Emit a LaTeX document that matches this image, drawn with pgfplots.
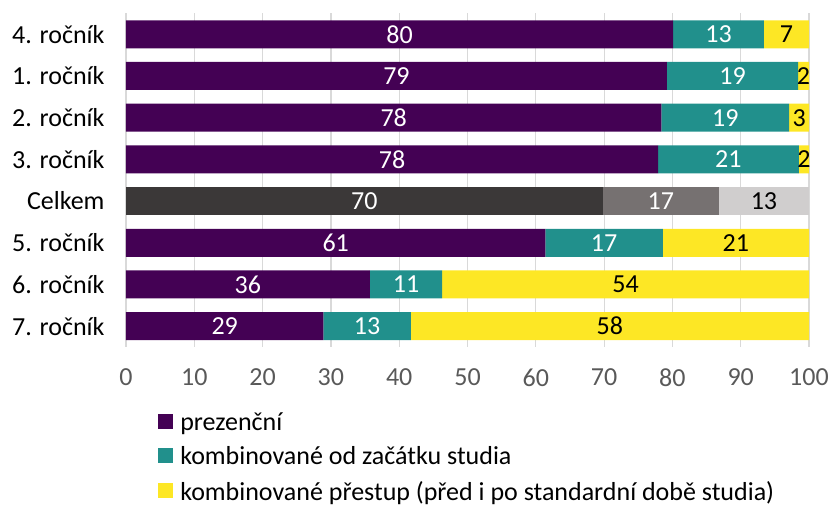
\documentclass[border=0pt]{standalone}
\usepackage{fontspec}
\setmainfont{Carlito}
\usepackage{pgfplots}
\usepackage{pgfplotstable}
\pgfplotsset{compat=1.18}
\definecolor{cPurple}{HTML}{440154}
\definecolor{cTeal}{HTML}{21908C}
\definecolor{cYellow}{HTML}{FDE725}
\definecolor{cDark}{HTML}{3B3838}
\definecolor{cGray}{HTML}{767171}
\definecolor{cLight}{HTML}{D0CECE}
\definecolor{gridc}{HTML}{D9D9D9}
\definecolor{tickc}{HTML}{595959}

\pgfplotstableread{
y a b c la lb lc
0 80.1 13.3 6.6 80 13 7
1 79.2 19.2 1.6 79 19 2
2 78.4 18.7 2.9 78 19 3
3 77.9 20.6 1.5 78 21 2
5 61.4 17.2 21.4 61 17 21
6 35.7 10.6 53.7 36 11 54
7 28.9 12.8 58.3 29 13 58
}\main
\pgfplotstableread{
y a b c la lb lc
4 69.8 17.0 13.2 70 17 13
}\total

\newcommand{\bigfont}{\fontsize{26}{30}\selectfont}

\pgfplotsset{base/.style={
  width=683pt, height=333.6pt, scale only axis,
  xmin=0, xmax=100, ymin=-0.5, ymax=7.5, y dir=reverse,
}}
\pgfplotsset{lab/.style={only marks, mark=none, nodes near coords, point meta=explicit symbolic,
  every node near coord/.style={anchor=center, font=\bigfont, inner sep=0pt, text=#1}}}

\begin{document}
\begin{tikzpicture}
\begin{axis}[base, xbar stacked, bar width=28pt,
  axis line style={draw=none},
  major tick style={draw=none},
  xmajorgrids, grid style={gridc, line width=1.2pt},
  xtick distance=10,
  /pgf/number format/assume math mode=true,
  xticklabel style={tickc, font=\bigfont, yshift=-18pt},
  ytick={0,1,2,3,4,5,6,7},
  yticklabels={4. ročník, 1. ročník, 2. ročník, 3. ročník, Celkem, 5. ročník, 6. ročník, 7. ročník},
  yticklabel style={font=\bigfont, xshift=-18pt},
  legend style={at={(axis description cs:0.047,-0.195)}, anchor=north west, draw=none, fill=none, inner sep=0pt, font=\bigfont, row sep=15pt, nodes={inner xsep=7pt, inner ysep=0pt}},
  legend cell align=left,
  legend image code/.code={\fill[#1] (0pt,-7pt) rectangle (15pt,8pt);},
]
\addplot[fill=cPurple, draw=none] table[x=a, y=y] {\main};
\addplot[fill=cTeal, draw=none] table[x=b, y=y] {\main};
\addplot[fill=cYellow, draw=none] table[x=c, y=y] {\main};
\legend{prezenční, kombinované od začátku studia, kombinované přestup (před i po standardní době studia)}
\end{axis}
\begin{axis}[base, xbar stacked, bar width=28pt, axis lines=none, ticks=none]
\addplot[fill=cDark, draw=none] table[x=a, y=y] {\total};
\addplot[fill=cGray, draw=none] table[x=b, y=y] {\total};
\addplot[fill=cLight, draw=none] table[x=c, y=y] {\total};
\end{axis}
\begin{axis}[base, axis lines=none, ticks=none]
\addplot[lab=white] table[x expr=\thisrow{a}/2, y=y, meta=la] {\main};
\addplot[lab=white] table[x expr=\thisrow{a}+\thisrow{b}/2, y=y, meta=lb] {\main};
\addplot[lab=black] table[x expr=\thisrow{a}+\thisrow{b}+\thisrow{c}/2, y=y, meta=lc] {\main};
\addplot[lab=white] table[x expr=\thisrow{a}/2, y=y, meta=la] {\total};
\addplot[lab=white] table[x expr=\thisrow{a}+\thisrow{b}/2, y=y, meta=lb] {\total};
\addplot[lab=black] table[x expr=\thisrow{a}+\thisrow{b}+\thisrow{c}/2, y=y, meta=lc] {\total};
\end{axis}
\pgfresetboundingbox
\path[use as bounding box] ([shift={(-126pt,-159pt)}]current axis.south west) rectangle ([shift={(704pt,347pt)}]current axis.south west);
\end{tikzpicture}
\end{document}
